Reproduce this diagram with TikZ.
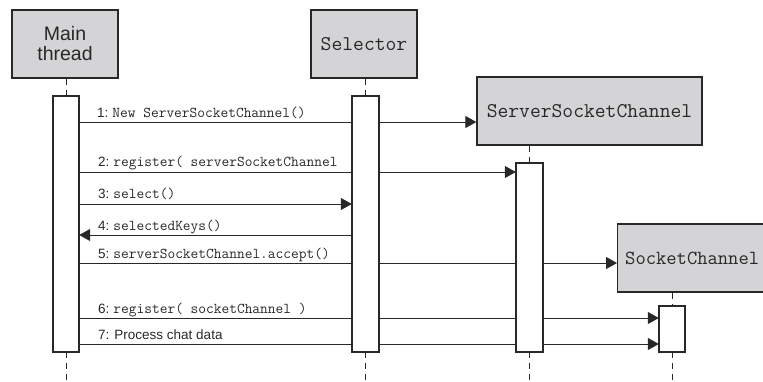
\documentclass[tikz,border=0pt]{standalone}
\usepackage{fontspec}
\setmainfont{Liberation Sans}
\usetikzlibrary{arrows.meta}
\definecolor{boxgray}{RGB}{212,212,214}
\definecolor{ink}{RGB}{40,40,40}
\newcommand{\mlbl}[2]{{\fontsize{13.5}{13.5}\selectfont #1:}\hspace{4pt}{\ttfamily\fontsize{15}{15}\selectfont #2}}
\begin{document}
\begin{tikzpicture}[x=1pt,y=-1pt,
  obj/.style={draw=ink, line width=1.3pt, fill=boxgray, inner sep=0pt, minimum height=68pt},
  objtt/.style={font=\ttfamily\fontsize{21}{21}\selectfont},
  act/.style={draw=ink, line width=1.2pt, fill=white, inner sep=0pt},
  life/.style={draw=ink, line width=1pt, dash pattern=on 6pt off 5pt},
  msg/.style={draw=ink, line width=1pt, -{Triangle[length=11pt,width=12pt]}},
  lbl/.style={anchor=base west, inner sep=0pt, text=ink}
]
\useasboundingbox (0,0) rectangle (763,381);
\clip (0,0) rectangle (763,381);
% object boxes
\node[obj, minimum width=106pt, align=center, text=ink,
      font=\fontsize{19.5}{20}\selectfont] (main) at (65,44) {Main\\thread};
\node[obj, minimum width=106pt, objtt, text=ink] (sel) at (364,44) {Selector};
\node[obj, minimum width=225pt, objtt, text=ink] (ssc) at (589.5,111) {ServerSocketChannel};
\node[obj, minimum width=170pt, text=ink, anchor=west] (sc) at (617,258) {};
\node[anchor=west, inner sep=0pt, text=ink, font=\ttfamily\fontsize{20}{20}\selectfont] (sctext) at (625,258) {SocketChannel};
% message levels
\coordinate (y1) at (0,122);
\coordinate (y2) at (0,172);
\coordinate (y3) at (0,204);
\coordinate (y4) at (0,235);
\coordinate (y5) at (0,263);
\coordinate (y6) at (0,318);
\coordinate (y7) at (0,344);
% activation boxes (positions)
\path (66,224) node[minimum width=26pt, minimum height=256pt, inner sep=0pt] (mainact) {};
\path (365.5,224) node[minimum width=27pt, minimum height=256pt, inner sep=0pt] (selact) {};
\path (529.5,257.5) node[minimum width=27pt, minimum height=189pt, inner sep=0pt] (sscact) {};
\path (672,329) node[minimum width=26pt, minimum height=46pt, inner sep=0pt] (scact) {};
% messages
\draw[msg] (mainact.east |- y1) -- (ssc.west |- y1);
\draw[msg] (mainact.east |- y2) -- (sscact.west |- y2);
\draw[msg] (mainact.east |- y3) -- (selact.west |- y3);
\draw[msg] (selact.west |- y4) -- (mainact.east |- y4);
\draw[msg] (mainact.east |- y5) -- (sc.west |- y5);
\draw[msg] (mainact.east |- y6) -- (scact.west |- y6);
\draw[msg] (mainact.east |- y7) -- (scact.west |- y7);
% activation boxes drawn
\node[act, minimum width=26pt, minimum height=256pt] at (mainact) {};
\node[act, minimum width=27pt, minimum height=256pt] at (selact) {};
\node[act, minimum width=27pt, minimum height=189pt] at (sscact) {};
\node[act, minimum width=26pt, minimum height=46pt] at (scact) {};
% lifelines
\coordinate (bot) at (0,384);
\draw[life] (main.south -| mainact) -- (mainact.north);
\draw[life] (mainact.south) -- (mainact |- bot);
\draw[life] (sel.south -| selact) -- (selact.north);
\draw[life] (selact.south) -- (selact |- bot);
\draw[life] (ssc.south -| sscact) -- (sscact.north);
\draw[life] (sscact.south) -- (sscact |- bot);
\draw[life] (sc.south -| scact) -- (scact.north);
\draw[life] (scact.south) -- (scact |- bot);
% labels
\node[lbl] (l1) at (97,117) {\mlbl{1}{New ServerSocketChannel()}};
\node[lbl] (l2) at (98,166) {\mlbl{2}{register( serverSocketChannel}};
\node[lbl] (l3) at (98,198) {\mlbl{3}{select()}};
\node[lbl] (l4) at (98,230) {\mlbl{4}{selectedKeys()}};
\node[lbl] (l5) at (98,258) {\mlbl{5}{serverSocketChannel.accept()}};
\node[lbl] (l6) at (98,313) {\mlbl{6}{register( socketChannel )}};
\node[lbl, font=\fontsize{13.5}{13.5}\selectfont] (l7) at (98,339) {7: Process chat data};
\end{tikzpicture}
\end{document}
